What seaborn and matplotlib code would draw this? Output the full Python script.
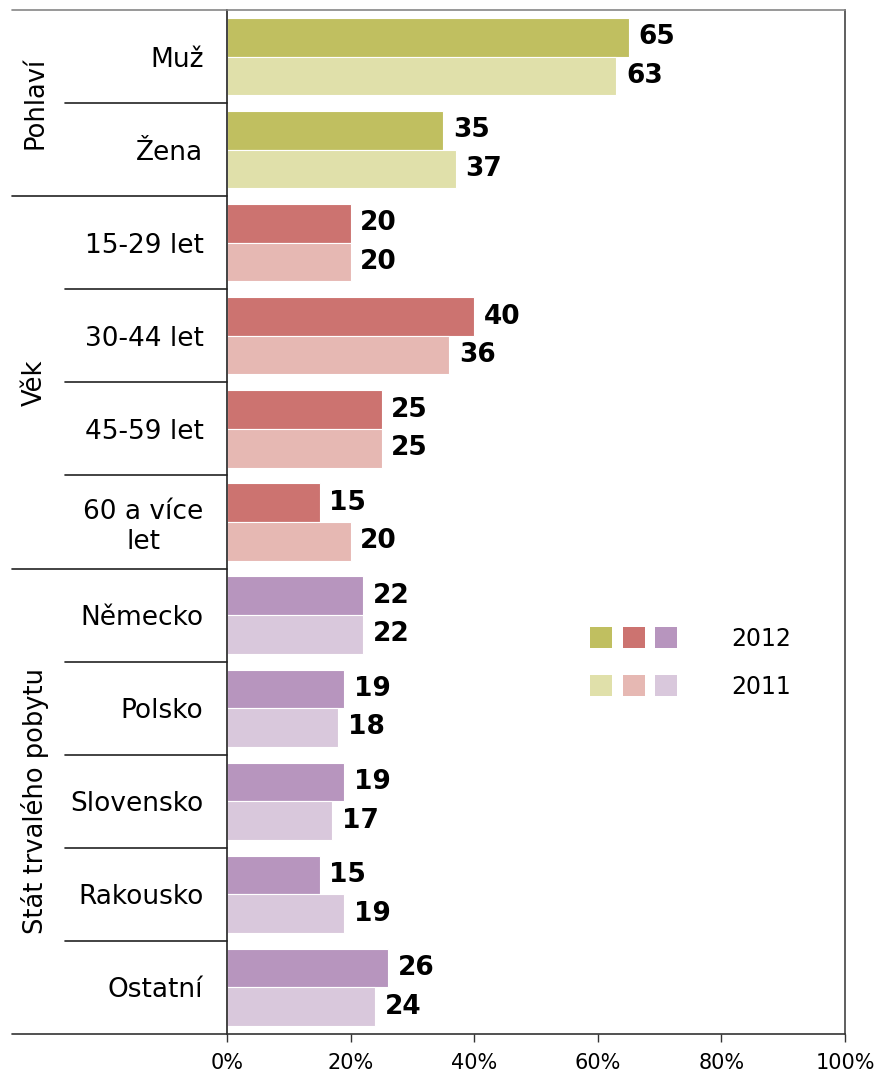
import matplotlib
matplotlib.use("Agg")
import matplotlib.pyplot as plt
from matplotlib.patches import Rectangle
from matplotlib.legend_handler import HandlerTuple
import matplotlib.transforms as mtransforms
import pandas as pd
import seaborn as sns

# --- data -------------------------------------------------------------
categories = ["Muž", "Žena",
              "15-29 let", "30-44 let", "45-59 let", "60 a více\nlet",
              "Německo", "Polsko", "Slovensko", "Rakousko", "Ostatní"]
groups = ["Pohlaví", "Pohlaví",
          "Věk", "Věk", "Věk", "Věk",
          "Stát trvalého pobytu", "Stát trvalého pobytu",
          "Stát trvalého pobytu", "Stát trvalého pobytu",
          "Stát trvalého pobytu"]
values_2012 = [65, 35, 20, 40, 25, 15, 22, 19, 19, 15, 26]
values_2011 = [63, 37, 20, 36, 25, 20, 22, 18, 17, 19, 24]
years = ["2012", "2011"]
x_ticks = [0, 20, 40, 60, 80, 100]
x_tick_labels = ["0%", "20%", "40%", "60%", "80%", "100%"]

group_order = ["Pohlaví", "Věk", "Stát trvalého pobytu"]
group_colors = {
    "Pohlaví": {"2012": "#C0BF60", "2011": "#E0E0AA"},
    "Věk": {"2012": "#CC7370", "2011": "#E6B8B3"},
    "Stát trvalého pobytu": {"2012": "#B795BE", "2011": "#D9C8DC"},
}

df = pd.DataFrame({
    "kategorie": categories * 2,
    "skupina": groups * 2,
    "rok": [years[0]] * len(categories) + [years[1]] * len(categories),
    "podil": values_2012 + values_2011,
})

# --- figure -----------------------------------------------------------
sns.set_style("white")
plt.rcParams["font.family"] = ["DejaVu Sans"]
plt.rcParams["text.color"] = "black"
plt.rcParams["xtick.color"] = "black"
plt.rcParams["ytick.color"] = "black"
plt.rcParams["xtick.labelcolor"] = "black"
plt.rcParams["ytick.labelcolor"] = "black"

fig = plt.figure(figsize=(8.77, 10.77), dpi=100)
ax = fig.add_axes([227 / 877, 1 - 1034 / 1077, 618 / 877, 1024 / 1077])

sns.barplot(data=df, y="kategorie", x="podil", hue="rok",
            order=categories, hue_order=years, orient="h",
            width=0.83, palette=["#999999", "#cccccc"],
            edgecolor="white", linewidth=0.8, ax=ax, legend=False)

# colour each bar by its category group
for year, container in zip(years, ax.containers):
    for cat_idx, bar in enumerate(container):
        bar.set_facecolor(group_colors[groups[cat_idx]][year])
    ax.bar_label(container, fmt="%d", padding=7, fontsize=19,
                 fontweight="bold", color="black")

ax.set_xlim(0, 100)
ax.set_ylim(len(categories) - 0.5, -0.5)
ax.set_xticks(x_ticks)
ax.set_xticklabels(x_tick_labels, fontsize=15, color="black")
ax.tick_params(axis="x", direction="out", length=6, width=1, color="#333333",
               pad=8, bottom=True)
ax.tick_params(axis="y", length=0, pad=17, labelsize=19, labelcolor="black")
for lbl in ax.get_yticklabels():
    lbl.set_multialignment("center")
ax.set_xlabel("")
ax.set_ylabel("")

for side in ["left", "right", "top", "bottom"]:
    ax.spines[side].set_visible(True)
    ax.spines[side].set_linewidth(1.2)
ax.spines["left"].set_color("#222222")
ax.spines["right"].set_color("#444444")
ax.spines["bottom"].set_color("#333333")
ax.spines["top"].set_color("#868686")

# separators between categories, extended to the left of the axes
trans = mtransforms.blended_transform_factory(ax.transAxes, ax.transData)
inner_left = (65 - 227) / 618
outer_left = (12 - 227) / 618
for i in range(1, len(categories)):
    boundary = i - 0.5
    left = outer_left if groups[i] != groups[i - 1] else inner_left
    ax.plot([left, 0], [boundary, boundary], transform=trans,
            color="#222222", lw=1.2, clip_on=False)
ax.plot([outer_left, 0], [-0.5, -0.5], transform=trans,
        color="#868686", lw=1.2, clip_on=False)
ax.plot([outer_left, 0], [len(categories) - 0.5, len(categories) - 0.5],
        transform=trans, color="#333333", lw=1.2, clip_on=False)

# group titles, rotated, centred on their block of categories
for g in group_order:
    idx = [i for i, gg in enumerate(groups) if gg == g]
    center = (idx[0] + idx[-1]) / 2
    ax.text((35 - 227) / 618, center, g, transform=trans, rotation=90,
            ha="center", va="center", fontsize=18.5, color="black")

# legend: three colour squares per year
handles = [tuple(Rectangle((0, 0), 1, 1, facecolor=group_colors[g][y],
                           edgecolor="none") for g in group_order)
           for y in years]
ax.legend(handles, years, handler_map={tuple: HandlerTuple(ndivide=None, pad=0.45)},
          loc="upper left", bbox_to_anchor=((590 - 227) / 618, (1034 - 627) / 1024),
          frameon=False, fontsize=17, handlelength=3.7, handleheight=1.0,
          handletextpad=2.3, labelspacing=1.0, borderpad=0, borderaxespad=0,
          labelcolor="black")

fig.savefig("out.png", dpi=100)
